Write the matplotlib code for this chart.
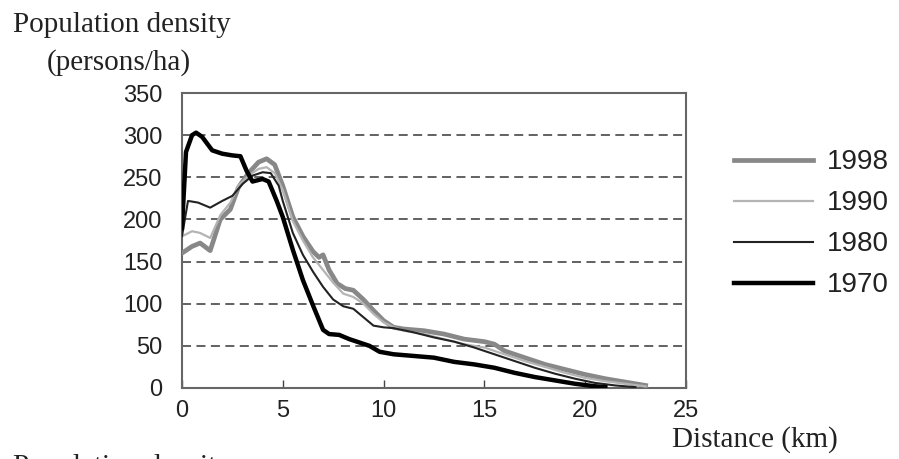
import matplotlib.pyplot as plt

# distance (km) and density (persons/ha)
x_1970 = [0, 0.2, 0.5, 0.7, 1.0, 1.5, 2.0, 2.5, 2.9, 3.2, 3.5, 4.0, 4.3, 4.7, 5.0, 5.5, 6.0,
          6.5, 7.0, 7.3, 7.8, 8.3, 8.8, 9.3, 9.8, 10.5, 11.5, 12.5, 13.5, 14.5, 15.5, 16.5,
          17.5, 18.5, 19.5, 20.5, 21.0]
y_1970 = [190, 280, 300, 303, 298, 282, 278, 276, 275, 258, 245, 248, 245, 222, 203, 164, 128,
          98, 69, 64, 63, 58, 54, 50, 43, 40, 38, 36, 31, 28, 24, 18, 13, 9, 5, 2, 1]

x_1980 = [0, 0.3, 0.8, 1.4, 2.0, 2.5, 3.0, 3.5, 4.0, 4.4, 4.8, 5.0, 5.5, 6.0, 6.5, 7.0, 7.5,
          8.0, 8.5, 9.0, 9.5, 10.0, 10.5, 11.5, 12.5, 13.5, 14.5, 15.5, 16.5, 17.5, 18.5,
          19.5, 20.5, 21.5, 22.5]
y_1980 = [180, 222, 220, 214, 222, 228, 242, 252, 256, 255, 240, 222, 184, 158, 138, 120, 105,
          97, 94, 84, 74, 72, 71, 66, 60, 55, 48, 40, 32, 24, 17, 11, 6, 3, 1]

x_1990 = [0, 0.5, 0.9, 1.4, 1.9, 2.4, 2.8, 3.3, 3.8, 4.2, 4.6, 5.0, 5.5, 6.0, 6.5, 7.0, 7.5,
          8.0, 8.5, 9.0, 9.5, 10.0, 10.5, 11.0, 12.0, 13.0, 14.0, 15.0, 16.0, 17.0, 18.0,
          19.0, 20.0, 21.0, 22.0, 23.0]
y_1990 = [180, 186, 184, 178, 205, 220, 240, 252, 260, 262, 255, 235, 198, 175, 155, 140, 125,
          112, 108, 100, 88, 78, 72, 68, 64, 58, 52, 48, 40, 32, 25, 18, 12, 8, 5, 2]

x_1998 = [0, 0.5, 0.9, 1.4, 1.9, 2.4, 2.8, 3.3, 3.8, 4.2, 4.6, 5.0, 5.5, 6.0, 6.5, 6.8, 7.0,
          7.3, 7.7, 8.1, 8.5, 9.0, 9.5, 10.0, 10.5, 11.0, 12.0, 13.0, 14.0, 15.0, 15.5, 16.0,
          17.0, 18.0, 19.0, 20.0, 21.0, 22.0, 23.0]
y_1998 = [160, 168, 172, 163, 200, 212, 238, 255, 268, 272, 265, 240, 203, 180, 162, 155, 158,
          140, 124, 118, 116, 105, 92, 80, 72, 70, 68, 64, 58, 55, 52, 44, 36, 28, 22, 16, 11,
          7, 3]

x_ticks = [0, 5, 10, 15, 20, 25]
y_ticks = [0, 50, 100, 150, 200, 250, 300, 350]

serif = 'Liberation Serif'
sans = 'Liberation Sans'

fig = plt.figure(figsize=(8.99, 4.59), dpi=100)
ax = fig.add_axes([0.2024, 0.1547, 0.5606, 0.6426])

for v in y_ticks[1:-1]:
    ax.axhline(v, color='#555555', lw=1.3, ls=(0, (5, 3)), zorder=1)

ax.plot(x_1998, y_1998, color='#888888', lw=3.4, label='1998', zorder=3)
ax.plot(x_1990, y_1990, color='#b4b4b4', lw=1.6, label='1990', zorder=4)
ax.plot(x_1980, y_1980, color='#222222', lw=1.5, label='1980', zorder=5)
ax.plot(x_1970, y_1970, color='#000000', lw=3.2, label='1970', zorder=6)

ax.set_xlim(0, 25)
ax.set_ylim(0, 350)
ax.set_xticks(x_ticks)
ax.set_yticks(y_ticks)
ax.tick_params(axis='x', direction='in', length=6, width=1, color='#444444',
               labelsize=17, pad=9)
ax.tick_params(axis='y', length=0, labelsize=17, pad=14)
for lab in ax.get_xticklabels() + ax.get_yticklabels():
    lab.set_fontfamily(sans)
    lab.set_color('#222222')
for s in ax.spines.values():
    s.set_color('#666666')
    s.set_linewidth(1.5)

leg = ax.legend(loc='center left', bbox_to_anchor=(0.789, 0.512), bbox_transform=fig.transFigure,
                frameon=False, handlelength=2.85, labelspacing=0.54, handletextpad=0.5,
                prop={'family': sans, 'size': 20})
for t in leg.get_texts():
    t.set_color('#222222')

fig.text(0.0145, 0.930, 'Population density', family=serif, fontsize=21, ha='left',
         va='baseline', color='#222222')
fig.text(0.1324, 0.8475, '(persons/ha)', family=serif, fontsize=21, ha='center',
         va='baseline', color='#222222')
fig.text(0.7475, 0.026, 'Distance (km)', family=serif, fontsize=21, ha='left',
         va='baseline', color='#222222')
# caption of the next panel, cut off by the bottom edge as in the reference
fig.text(0.0145, -0.033, 'Population density', family=serif, fontsize=21, ha='left',
         va='baseline', color='#222222')

fig.savefig('out.png', dpi=100)
